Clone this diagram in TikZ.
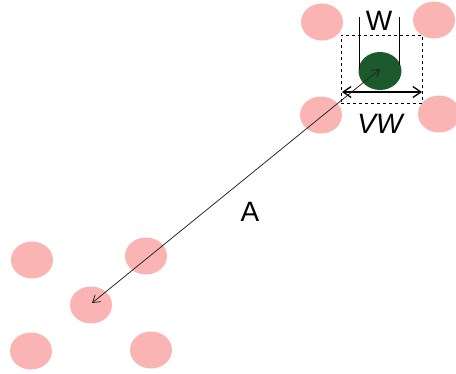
\documentclass[tikz,border=0pt]{standalone}
\usepackage{fontspec}
\setmainfont{Liberation Sans}
\usetikzlibrary{arrows.meta,positioning,calc,shapes.geometric}
\definecolor{cPink}{HTML}{FBB4B4}
\definecolor{cDark}{HTML}{1C5A2C}
\definecolor{cInk}{HTML}{222222}
\tikzset{
  every picture/.style={line width=0.6pt},
  site/.style={ellipse, fill=cPink, draw=none, minimum width=42pt, minimum height=37pt, inner sep=0pt},
  grain/.style={ellipse, fill=cDark, draw=none, minimum width=43pt, minimum height=38pt, inner sep=0pt},
  lab/.style={font=\fontsize{28}{30}\selectfont, text=black, inner sep=1pt},
  dist/.style={{Straight Barb[length=7pt,width=9pt]}-{Straight Barb[length=7pt,width=9pt]}, draw=cInk, line width=0.75pt},
  span/.style={{Straight Barb[length=8pt,width=11pt]}-{Straight Barb[length=8pt,width=11pt]}, draw=black, line width=1.3pt},
}

\begin{document}
\begin{tikzpicture}[x=1pt,y=-1pt]
\useasboundingbox (0,0) rectangle (456,373);

% ---------------------------------------------------------------- upper cell
\node[site] (t1) at (322,22) {};
\node[site] (t2) at (434,20) {};
\node[site] (t3) at (321,115) {};
\node[site] (t4) at (439,114) {};

\node[draw=black, dashed, line width=0.5pt, minimum width=81pt, minimum height=68pt, inner sep=0pt] (cell) at (381.5,69) {};
\node[grain] (g) at (380,71) {};

% ---------------------------------------------------------------- width marks
\coordinate (wl) at (359,17);
\coordinate (wr) at (399,17);
\draw[black, line width=1pt] (wl) -- ++(0,52);
\draw[black, line width=1pt] (wr) -- ++(0,48);
\node[lab] (w) at (379,21) {W};

\coordinate (vl) at (342,92);
\coordinate (vr) at (422,92);
\draw[span] (vl) -- (vr);
\node[lab, font=\fontsize{28}{30}\selectfont\itshape] (vw) at (380,124) {VW};

% ---------------------------------------------------------------- lower cell
\node[site] (b1) at (32,260) {};
\node[site] (b2) at (146,256) {};
\node[site] (b3) at (91,305) {};
\node[site] (b4) at (31,351) {};
\node[site] (b5) at (151,350) {};

% ---------------------------------------------------------------- spacing
\coordinate (ga) at (380,69);
\coordinate (ba) at (92,303);
\draw[dist] (ga) -- (ba);
\node[lab] (a) at (250,212) {A};

\end{tikzpicture}
\end{document}
